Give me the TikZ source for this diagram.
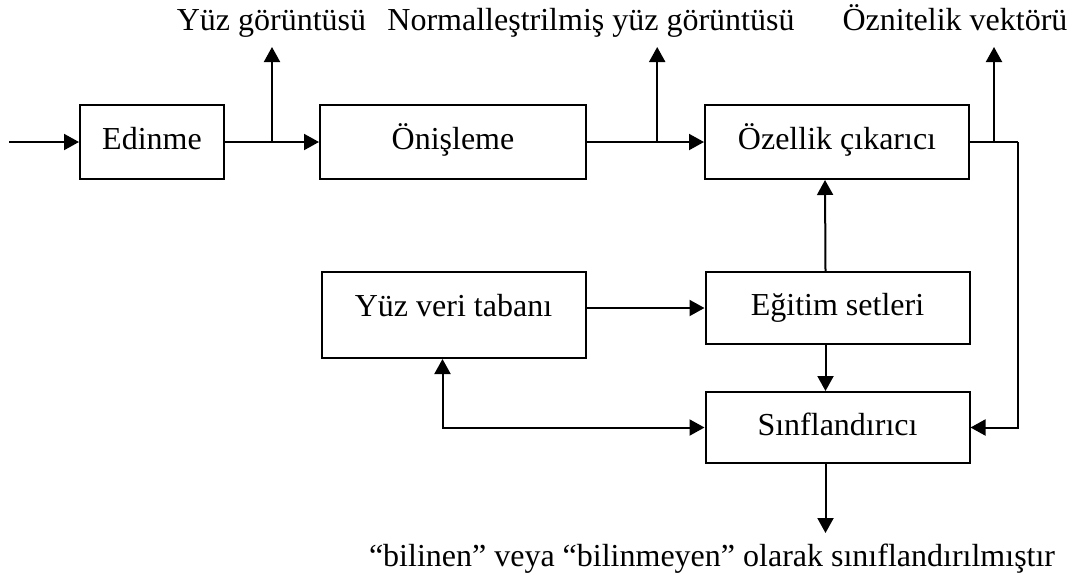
\documentclass[tikz,border=0pt]{standalone}
\usepackage{fontspec}
\setmainfont{Liberation Serif}
\usepackage{tikz}
\usetikzlibrary{arrows.meta, positioning, calc}

\begin{document}
\begin{tikzpicture}[
    x=0.5pt, y=-0.5pt,
    font=\fontsize{16}{19}\selectfont,
    box/.style={rectangle, draw=black, line width=1pt, minimum width=132pt,
                minimum height=37pt, align=center, text height=11pt, text depth=3.5pt},
    arrow/.style={-{Triangle[length=7.5pt, width=8pt]}, line width=1pt},
    darrow/.style={{Triangle[length=7.5pt, width=8pt]}-{Triangle[length=7.5pt, width=8pt]}, line width=1pt},
    line/.style={line width=1pt},
    lbl/.style={anchor=base, inner sep=0pt}
]
\useasboundingbox (0,0) rectangle (1081,574);

\node[box, minimum width=72pt] (edinme) at (152,142) {Edinme};
\node[box, minimum width=133pt] (onisleme) at (453,142) {Önişleme};
\node[box] (ozellik) at (837,142) {Özellik çıkarıcı};
\node[box, minimum height=43pt, text depth=10pt] (veri) at (453.5,315) {Yüz veri tabanı};
\node[box, minimum height=36pt] (egitim) at (837.5,308) {Eğitim setleri};
\node[box, minimum height=35.5pt] (sinif) at (837.5,427.5) {Sınflandırıcı};

% labels
\node[lbl] (yuz) at (271.5,30) {Yüz görüntüsü};
\node[lbl] (norm) at (591,30) {Normalleştrilmiş yüz görüntüsü};
\node[lbl] (vektor) at (955,30) {Öznitelik vektörü};
\node[lbl] (sonuc) at (712,566) {“bilinen” veya “bilinmeyen” olarak sınıflandırılmıştır};

\coordinate (giris) at (9,142);
\coordinate (ust) at (0,47);
\coordinate (sag) at (1018,142);
\coordinate (alt) at (825.5,533);
\coordinate (b1) at ($(edinme.east)!0.5!(onisleme.west)$);
\coordinate (b2) at ($(onisleme.east)!0.6!(ozellik.west)$);
\coordinate (b3) at ($(ozellik.east)!0.5!(sag)$);

\draw[arrow] (giris) -- (edinme);
\draw[arrow] (edinme) -- (onisleme);
\draw[arrow] (onisleme) -- (ozellik);
\draw[arrow] (b1) -- (b1 |- ust);
\draw[arrow] (b2) -- (b2 |- ust);
\draw[arrow] (b3) -- (b3 |- ust);
\draw[line] (ozellik.east) -- (sag);
\draw[arrow] (sag) |- (sinif.east);
\draw[arrow] ([xshift=-6pt]egitim.north) -- ([xshift=-6pt]ozellik.south);
\draw[arrow] ([xshift=-6pt]egitim.south) -- ([xshift=-6pt]sinif.north);
\draw[arrow] (veri.east |- egitim) -- (egitim.west);
\draw[darrow] ([xshift=-5.5pt]veri.south) |- (sinif.west);
\draw[arrow] (alt |- sinif.south) -- (alt);
\end{tikzpicture}
\end{document}
